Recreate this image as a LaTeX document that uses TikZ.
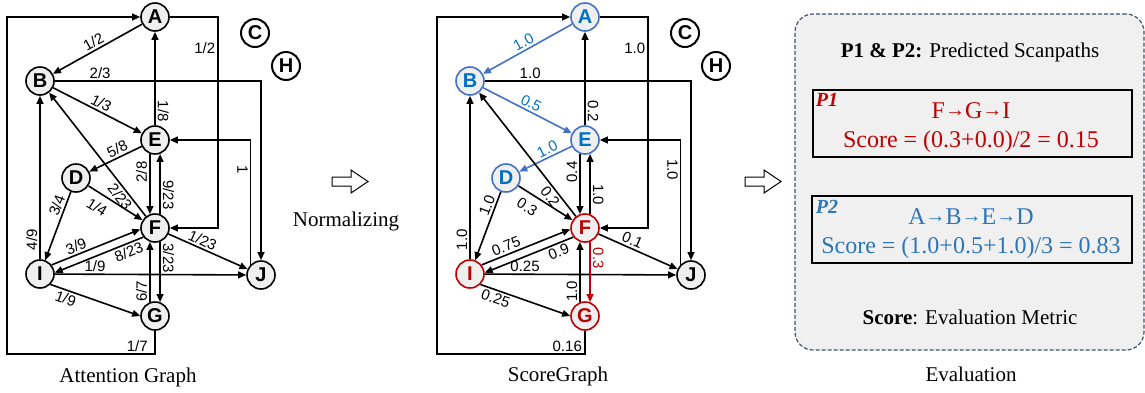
\documentclass[tikz,border=0pt]{standalone}
\usepackage{fontspec}
\setmainfont{Liberation Serif}
\setsansfont{Liberation Sans}
\usepackage{xcolor}
\usepackage{tikz}
\usetikzlibrary{arrows.meta}

\definecolor{nodefill}{HTML}{EFEFEF}
\definecolor{pathblue}{HTML}{4472C4}
\definecolor{textblue}{HTML}{0070C0}
\definecolor{scoreblue}{HTML}{2E75B6}
\definecolor{pathred}{HTML}{C00000}
\definecolor{panelgray}{HTML}{F0F0F0}
\definecolor{panelline}{HTML}{44546A}

\newcommand{\scanarrow}{\raisebox{0.6pt}{\fontsize{10}{10}\selectfont\bfseries →}}

\begin{document}
\begin{tikzpicture}[x=0.5pt, y=-0.5pt,
  every node/.style={font=\fontsize{10.5}{12}\selectfont},
  vtx/.style={circle, draw, line width=0.8pt, fill=nodefill, minimum size=14pt, inner sep=0pt, font=\sffamily\bfseries\fontsize{10}{10}\selectfont},
  free/.style={vtx, fill=white, line width=1pt},
  bluevtx/.style={vtx, draw=pathblue, text=textblue},
  redvtx/.style={vtx, draw=pathred, text=pathred},
  arr/.style={-{Triangle[length=4pt,width=3.4pt]}, line width=0.8pt},
  lbl/.style={font=\sffamily\fontsize{7.5}{8}\selectfont, inner sep=1pt},
  caption/.style={anchor=base, font=\fontsize{10.5}{12}\selectfont}]
\useasboundingbox (0,0) rectangle (1145,392);

% Attention graph
\node[vtx] (A1) at (155,17) {A};
\node[vtx] (B1) at (40,81) {B};
\node[free] (C1) at (255,33) {C};
\node[free] (H1) at (286,66) {H};
\node[vtx] (E1) at (155,140) {E};
\node[vtx] (D1) at (76,178) {D};
\node[vtx] (F1) at (155,228) {F};
\node[vtx] (I1) at (40,274) {I};
\node[vtx] (J1) at (261,275) {J};
\node[vtx] (G1) at (155,316) {G};
\draw[arr] (A1) -- node[lbl, sloped, above] {1/2} (B1);
\draw[arr] (A1.east) -| node[lbl, pos=0.69, left] {1/2} (218,100) |- (F1.east);
\draw[arr] (B1.east) -| node[lbl, pos=0.11, above] {2/3} (J1.north);
\draw[arr] (B1) -- node[lbl, sloped, above] {1/3} (E1);
\draw[arr] (E1) -- node[lbl, pos=0.15, rotate=-90, anchor=south] {1/8} (A1);
\draw[arr] (E1) -- node[lbl, sloped, above, pos=0.4] {5/8} (D1);
\draw[arr] (E1.-110) -- node[lbl, pos=0.3, rotate=90, anchor=south] {2/8} (F1.110);
\draw[arr] (F1.70) -- node[lbl, pos=0.32, rotate=-90, anchor=south] {9/23} (E1.-70);
\draw[arr] (J1.north west) |- node[lbl, pos=0.38, rotate=-90, anchor=north] {1} (E1.east);
\draw[arr] (D1) -- node[lbl, sloped, below=2.5pt, pos=0.29] {1/4} (F1);
\draw[arr] (F1) -- node[lbl, sloped, below=0pt, pos=0.2] {2/23} (B1);
\draw[arr] (D1) -- node[lbl, sloped, above, pos=0.24] {3/4} (I1);
\draw[arr] (I1) -- node[lbl, pos=0.12, rotate=90, anchor=south] {4/9} (B1);
\draw[arr] (I1.38) -- node[lbl, sloped, above, pos=0.31] {3/9} (F1.185);
\draw[arr] (F1.218) -- node[lbl, sloped, below, pos=0.2] {8/23} (I1.5);
\draw[arr] (I1) -- node[lbl, sloped, above, pos=0.21] {1/9} (J1);
\draw[arr] (I1.-45) -- node[lbl, sloped, below, pos=0.2] {1/9} (G1.west);
\draw[arr] (F1) -- node[lbl, sloped, above, pos=0.39] {1/23} (J1);
\draw[arr] (F1.-70) -- node[lbl, pos=0.27, rotate=-90, anchor=south] {3/23} (G1.70);
\draw[arr] (G1.110) -- node[lbl, pos=0.18, rotate=90, anchor=south] {6/7} (F1.-110);
\draw[arr] (G1.south) |- node[lbl, pos=0.56, above] {1/7} (7,354) |- (A1.west);
\node[caption] (cap1) at (128,382) {Attention Graph};

% Normalizing arrows
\foreach \x in {332,745}
  \draw[line width=0.5pt, fill=white] (\x,177) -- ++(19,0) -- ++(0,-7) -- ++(17,11.5) -- ++(-17,11.5) -- ++(0,-7) -- ++(-19,0) -- cycle;
\node[caption] (norm) at (346,226) {Normalizing};

% ScoreGraph
\begin{scope}[shift={(430,0)}]
\node[bluevtx] (A2) at (155,17) {A};
\node[bluevtx] (B2) at (40,81) {B};
\node[free] (C2) at (255,33) {C};
\node[free] (H2) at (286,66) {H};
\node[bluevtx] (E2) at (155,140) {E};
\node[bluevtx] (D2) at (76,178) {D};
\node[redvtx] (F2) at (155,228) {F};
\node[redvtx] (I2) at (40,274) {I};
\node[vtx] (J2) at (261,275) {J};
\node[redvtx] (G2) at (155,316) {G};
\draw[arr, pathblue] (A2) -- node[lbl, sloped, above, text=textblue] {1.0} (B2);
\draw[arr] (A2.east) -| node[lbl, pos=0.69, left] {1.0} (218,100) |- (F2.east);
\draw[arr] (B2.east) -| node[lbl, pos=0.11, above] {1.0} (J2.north);
\draw[arr, pathblue] (B2) -- node[lbl, sloped, above, text=textblue] {0.5} (E2);
\draw[arr] (E2) -- node[lbl, pos=0.15, rotate=-90, anchor=south] {0.2} (A2);
\draw[arr, pathblue] (E2) -- node[lbl, sloped, above, pos=0.4, text=textblue] {1.0} (D2);
\draw[arr] (E2.-110) -- node[lbl, pos=0.3, rotate=90, anchor=south] {0.4} (F2.110);
\draw[arr] (F2.70) -- node[lbl, pos=0.32, rotate=-90, anchor=south] {1.0} (E2.-70);
\draw[arr] (J2.north west) |- node[lbl, pos=0.38, rotate=-90, anchor=north] {1.0} (E2.east);
\draw[arr] (D2) -- node[lbl, sloped, below=2.5pt, pos=0.29] {0.3} (F2);
\draw[arr] (F2) -- node[lbl, sloped, below=0pt, pos=0.2] {0.2} (B2);
\draw[arr] (D2) -- node[lbl, sloped, above, pos=0.24] {1.0} (I2);
\draw[arr] (I2) -- node[lbl, pos=0.12, rotate=90, anchor=south] {1.0} (B2);
\draw[arr] (I2.38) -- node[lbl, sloped, above, pos=0.31] {0.75} (F2.185);
\draw[arr] (F2.218) -- node[lbl, sloped, below, pos=0.2] {0.9} (I2.5);
\draw[arr] (I2) -- node[lbl, sloped, above, pos=0.21] {0.25} (J2);
\draw[arr] (I2.-45) -- node[lbl, sloped, below, pos=0.2] {0.25} (G2.west);
\draw[arr] (F2) -- node[lbl, sloped, above, pos=0.39] {0.1} (J2);
\draw[arr, pathred] (F2.-70) -- node[lbl, pos=0.27, rotate=-90, anchor=south, text=pathred] {0.3} (G2.70);
\draw[arr] (G2.110) -- node[lbl, pos=0.18, rotate=90, anchor=south] {1.0} (F2.-110);
\draw[arr] (G2.south) |- node[lbl, pos=0.56, above] {0.16} (7,354) |- (A2.west);
\node[caption] (cap2) at (128,381) {ScoreGraph};
\end{scope}

% Evaluation panel
\node[draw=panelline, dash pattern=on 2pt off 1pt, line width=0.6pt, rounded corners=9pt, fill=panelgray, minimum width=174.5pt, minimum height=168pt] (panel) at (969.5,182) {};
\node[caption] (title) at (970,57) {\textbf{P1 \& P2:} Predicted Scanpaths};
\node[draw, line width=0.6pt, minimum width=159.5pt, minimum height=33.5pt] (box1) at (972.5,123.5) {};
\node[anchor=base, text=pathred, font=\bfseries\itshape\fontsize{10}{12}\selectfont] (p1) at (827,106) {P1};
\node[anchor=base, text=pathred, font=\fontsize{12}{14}\selectfont] (path1) at (971,118) {F\scanarrow G\scanarrow I};
\node[anchor=base, text=pathred, font=\fontsize{12}{14}\selectfont] (score1) at (971,147) {Score = (0.3+0.0)/2 = 0.15};
\node[draw, line width=0.6pt, minimum width=160pt, minimum height=33.5pt] (box2) at (972,229.5) {};
\node[anchor=base, text=scoreblue, font=\bfseries\itshape\fontsize{10}{12}\selectfont] (p2) at (827,213) {P2};
\node[anchor=base, text=scoreblue, font=\fontsize{12}{14}\selectfont] (path2) at (971,224) {A\scanarrow B\scanarrow E\scanarrow D};
\node[anchor=base, text=scoreblue, font=\fontsize{12}{14}\selectfont] (score2) at (971,253) {Score = (1.0+0.5+1.0)/3 = 0.83};
\node[caption] (metric) at (970,324) {\textbf{Score}: Evaluation Metric};
\node[caption] (cap3) at (971,381) {Evaluation};
\end{tikzpicture}
\end{document}
